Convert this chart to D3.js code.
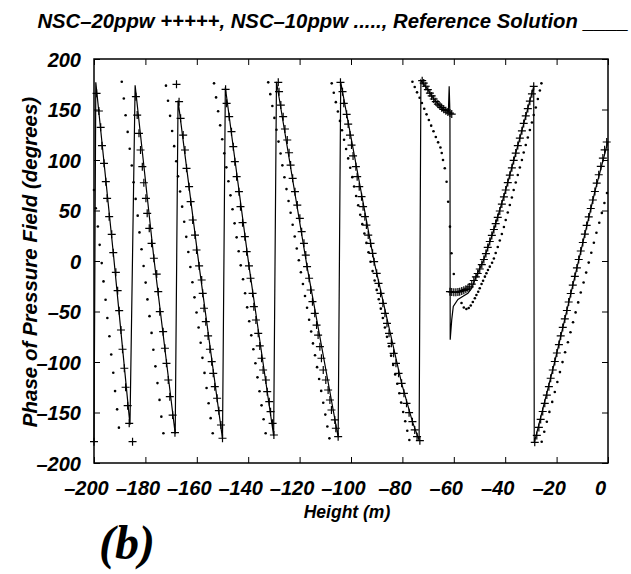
<!DOCTYPE html>
<html>
<head>
<meta charset="utf-8">
<script src="https://cdn.jsdelivr.net/npm/d3@7"></script>
<style>
  body { margin: 0; background: #fff; }
  text { font-family: "Liberation Sans", Arial, Helvetica, sans-serif; font-weight: bold; font-style: italic; fill: #000; }
</style>
</head>
<body>
<svg id="chart" width="631" height="574"></svg>
<script>
// ---- data: [height (m), phase (deg)] ----
var xTicks = [-200, -180, -160, -140, -120, -100, -80, -60, -40, -20, 0];
var yTicks = [-200, -150, -100, -50, 0, 50, 100, 150, 200];

// reference solution, drawn as a polyline (wrap jumps included)
var refSolution = [
  [-200.0,-179.0],[-199.3,177.0],[-192.5,8.2],[-186.0,-162.0],
  [-184.0,174.0],[-176.7,2.7],[-168.4,-171.0],
  [-167.3,159.0],[-159.1,-4.9],[-150.0,-176.0],
  [-148.9,172.0],[-139.7,-4.9],[-130.1,-173.0],
  [-129.0,177.5],[-117.1,-5.6],[-105.0,-174.5],
  [-104.0,177.0],[-91.0,-0.7],[-80.3,-121.1],[-76.1,-159.1],[-73.5,-177.5],
  [-72.8,179.0],[-70.1,169.6],[-67.8,160.4],[-65.4,153.5],[-63.5,149.5],[-62.1,148.0],
  [-61.8,173.0],[-61.5,146.0],[-61.4,-78.0],[-60.8,-58.0],[-60.2,-45.0],[-58.4,-38.0],
  [-56.4,-35.0],[-54.5,-32.0],[-53.0,-27.0],[-51.4,-15.8],[-48.3,1.5],[-44.4,31.2],
  [-39.8,70.3],[-34.3,121.6],[-28.9,172.9],
  [-28.7,-180.0],[-20.7,-99.5],[-12.1,-6.9],[-5.1,68.8],[0.0,118.5]
];

// NSC-20ppw (+ markers)
var nsc20 = [
  [-200.0,-178.9],[-199.0,166.0],[-198.1,148.5],[-197.4,132.4],[-196.9,114.2],[-196.1,96.7],[-195.4,78.5],
  [-194.9,62.1],[-194.1,43.9],[-193.1,26.4],[-192.5,8.2],[-191.5,-11.2],[-190.8,-29.4],[-190.2,-49.2],
  [-189.5,-68.3],[-188.9,-87.4],[-188.2,-106.2],[-187.7,-125.0],[-186.9,-143.2],[-186.3,-160.7],[-185.0,-178.9],

  [-183.7,162.7],[-183.2,144.5],[-182.5,126.4],[-181.9,109.9],[-181.2,93.4],[-180.6,77.5],[-179.8,62.1],
  [-179.3,47.2],[-178.5,32.4],[-177.6,17.5],[-176.7,2.7],[-175.6,-12.9],[-175.0,-30.4],[-174.4,-50.2],
  [-173.1,-70.0],[-172.4,-86.4],[-171.8,-101.3],[-171.1,-117.8],[-170.5,-134.3],[-169.4,-152.5],[-168.5,-170.0],

  [-167.9,174.9],[-166.9,157.7],[-166.3,141.3],[-165.3,124.7],[-164.6,109.9],[-164.0,91.8],[-163.0,73.6],
  [-162.4,58.7],[-161.6,40.6],[-160.7,25.7],[-160.1,10.9],[-159.1,-4.9],[-158.1,-18.8],[-157.7,-32.0],
  [-157.2,-46.8],[-156.5,-60.1],[-155.6,-74.2],[-154.9,-87.4],[-154.2,-99.7],[-153.6,-111.2],[-153.0,-124.4],
  [-152.1,-135.9],[-151.4,-148.2],[-150.6,-162.4],[-150.0,-175.5],

  [-148.8,170.0],[-148.4,156.1],[-147.4,142.9],[-146.5,128.0],[-145.8,113.2],[-145.2,98.3],[-144.5,83.5],
  [-143.6,68.6],[-143.0,53.8],[-142.2,37.9],[-141.3,24.1],[-140.6,9.2],[-139.7,-4.9],[-139.1,-17.1],
  [-138.3,-32.0],[-137.8,-45.2],[-137.0,-58.4],[-136.1,-71.6],[-135.5,-84.1],[-134.8,-96.3],[-134.2,-107.9],
  [-133.1,-117.8],[-132.6,-129.4],[-131.8,-139.3],[-131.3,-149.2],[-130.5,-160.7],[-130.0,-172.3],

  [-128.3,176.9],[-128.0,167.6],[-127.3,154.4],[-126.4,142.9],[-125.7,130.7],[-124.8,119.8],[-124.1,107.2],
  [-123.5,95.0],[-122.7,81.9],[-121.8,68.6],[-120.9,55.4],[-119.9,42.3],[-119.2,29.0],[-118.3,17.5],
  [-117.6,5.9],[-117.1,-5.6],[-116.3,-17.1],[-115.7,-28.7],[-115.0,-40.3],[-114.1,-51.8],[-113.4,-63.4],
  [-112.8,-73.3],[-112.1,-84.8],[-111.5,-96.3],[-110.8,-107.9],[-109.8,-117.8],[-108.9,-127.7],[-108.2,-137.6],
  [-107.6,-147.5],[-106.3,-157.4],[-105.9,-165.6],[-105.0,-173.9],

  [-104.1,176.9],[-103.3,167.6],[-102.8,156.1],[-101.7,145.2],[-101.1,135.6],[-100.4,124.7],[-99.8,114.8],
  [-99.2,104.0],[-98.1,93.4],[-97.6,83.5],[-96.8,73.6],[-95.9,63.7],[-95.3,53.8],[-94.6,43.9],[-94.0,35.6],
  [-93.3,25.7],[-92.4,17.5],[-91.6,7.6],[-91.0,-0.7],[-90.0,-12.2],[-89.3,-22.1],[-88.5,-32.0],[-87.6,-41.9],
  [-86.8,-51.8],[-86.0,-61.7],[-85.2,-71.6],[-84.3,-81.5],[-83.4,-91.4],[-82.5,-101.3],[-81.5,-111.2],
  [-80.3,-121.1],[-79.4,-131.0],[-78.4,-140.9],[-77.4,-150.2],[-76.1,-159.1],[-75.2,-167.3],[-74.3,-173.9],
  [-73.2,-177.9],

  [-72.3,178.5],[-71.7,176.2],[-70.9,173.0],[-70.1,169.6],[-69.3,166.3],[-68.6,163.4],[-67.8,160.4],
  [-67.0,157.7],[-66.2,155.4],[-65.4,153.5],[-64.7,151.8],[-63.9,150.2],[-63.1,148.8],[-62.3,147.5],
  [-61.5,146.5],[-60.8,145.5],

  [-61.5,-30.4],[-60.8,-30.7],[-60.0,-31.0],[-59.2,-31.0],[-58.4,-30.7],[-57.7,-30.4],[-56.9,-29.7],
  [-56.1,-29.0],[-55.3,-28.0],[-54.5,-27.0],[-53.8,-25.7],[-53.0,-22.8],[-52.2,-19.3],[-51.4,-15.8],
  [-50.7,-12.4],[-49.9,-7.9],[-49.1,-3.5],[-48.3,1.5],[-47.5,7.4],[-46.8,13.4],[-46.0,19.3],[-45.2,25.3],
  [-44.4,31.2],[-43.7,37.1],[-42.9,43.1],[-42.1,49.5],[-41.3,56.4],[-40.5,63.4],[-39.8,70.3],[-39.0,77.6],
  [-38.2,85.0],[-37.4,92.3],[-36.7,99.6],[-35.9,106.9],[-35.1,114.3],[-34.3,121.6],[-33.5,128.9],
  [-32.8,136.2],[-32.0,143.6],[-31.2,150.9],[-30.4,158.2],[-29.6,165.5],[-28.9,172.9],

  [-28.5,-179.5],[-27.7,-172.7],[-26.9,-164.8],[-26.2,-156.9],[-25.4,-149.0],[-24.6,-140.9],[-23.8,-132.7],
  [-23.0,-124.4],[-22.3,-116.1],[-21.5,-107.9],[-20.7,-99.5],[-19.9,-91.1],[-19.1,-82.7],[-18.4,-74.2],
  [-17.6,-65.8],[-16.8,-57.4],[-16.0,-49.0],[-15.3,-40.6],[-14.5,-32.2],[-13.7,-23.8],[-12.9,-15.3],
  [-12.1,-6.9],[-11.4,1.5],[-10.6,9.9],[-9.8,18.3],[-9.0,26.7],[-8.3,35.2],[-7.5,43.6],[-6.7,52.0],
  [-5.9,60.4],[-5.1,68.8],[-4.4,77.2],[-3.6,85.4],[-2.8,93.7],[-2.0,101.9],[-1.3,110.1],[-0.5,117.8]
];

// NSC-10ppw (dots)
var nsc10 = [
  [-200.0,70.3],[-199.3,52.2],[-198.5,34.1],[-197.8,16.0],[-197.0,-2.1],[-196.3,-20.2],[-195.5,-38.3],
  [-194.8,-56.4],[-194.0,-74.5],[-193.3,-92.6],[-192.5,-110.7],[-191.8,-128.8],[-191.0,-146.9],[-190.3,-165.0],

  [-189.2,177.5],[-188.4,160.9],[-187.7,144.3],[-186.9,127.8],[-186.1,111.2],[-185.3,94.6],[-184.6,78.0],
  [-183.8,61.5],[-183.0,44.9],[-182.3,28.3],[-181.5,11.7],[-180.7,-4.9],[-179.9,-21.4],[-179.2,-38.0],
  [-178.4,-54.6],[-177.6,-71.2],[-176.9,-87.8],[-176.1,-104.3],[-175.3,-120.9],[-174.5,-137.5],
  [-173.8,-154.1],[-173.0,-170.6],

  [-172.0,173.6],[-171.2,158.6],[-170.4,143.7],[-169.6,128.7],[-168.8,113.7],[-168.0,98.8],[-167.3,83.8],
  [-166.5,68.8],[-165.7,53.8],[-164.9,38.9],[-164.1,23.9],[-163.3,8.9],[-162.5,-6.0],[-161.7,-21.0],
  [-160.9,-36.0],[-160.1,-51.0],[-159.3,-65.9],[-158.5,-80.9],[-157.8,-95.9],[-157.0,-110.8],
  [-156.2,-125.8],[-155.4,-140.8],[-154.6,-155.6],[-153.8,-170.6],

  [-153.3,175.9],[-152.5,162.0],[-151.7,148.2],[-150.9,134.3],[-150.1,120.5],[-149.3,106.6],[-148.5,92.7],
  [-147.7,78.9],[-146.9,65.0],[-146.1,51.2],[-145.3,37.3],[-144.5,23.4],[-143.7,9.6],[-142.9,-4.3],
  [-142.0,-18.1],[-141.2,-32.0],[-140.4,-45.9],[-139.6,-59.7],[-138.8,-73.6],[-138.0,-87.4],
  [-137.2,-101.3],[-136.4,-115.2],[-135.6,-129.0],[-134.8,-142.9],[-134.0,-156.7],[-133.2,-170.6],

  [-132.2,176.9],[-131.4,165.2],[-130.6,153.4],[-129.8,141.7],[-129.0,129.9],[-128.2,118.2],[-127.4,106.4],
  [-126.7,94.7],[-125.9,82.9],[-125.1,71.2],[-124.3,59.4],[-123.5,47.7],[-122.7,35.9],[-121.9,24.2],
  [-121.1,12.4],[-120.3,0.7],[-119.5,-11.1],[-118.7,-22.8],[-117.9,-34.6],[-117.1,-46.3],[-116.3,-58.1],
  [-115.5,-69.8],[-114.8,-81.6],[-114.0,-93.3],[-113.2,-105.1],[-112.4,-116.8],[-111.6,-128.6],
  [-110.8,-140.3],[-110.0,-152.1],[-109.2,-163.8],[-108.4,-175.6],

  [-107.5,175.9],[-106.7,166.6],[-105.9,157.3],[-105.1,148.0],[-104.3,138.7],[-103.5,129.4],[-102.7,120.1],
  [-101.9,110.9],[-101.1,101.6],[-100.3,92.3],[-99.5,83.0],[-98.8,73.7],[-98.0,64.4],[-97.2,55.1],
  [-96.4,45.8],[-95.6,36.5],[-94.8,27.2],[-94.0,17.9],[-93.2,8.6],[-92.4,-0.7],[-91.6,-10.0],[-90.8,-19.3],
  [-90.0,-28.6],[-89.2,-37.9],[-88.4,-47.2],[-87.6,-56.5],[-86.8,-65.8],[-86.0,-75.1],[-85.2,-84.4],
  [-84.4,-93.7],[-83.6,-103.0],[-82.8,-112.3],[-82.0,-121.6],[-81.2,-130.9],[-80.5,-140.2],[-79.7,-149.5],
  [-78.9,-158.7],[-78.1,-168.0],[-77.3,-177.2],

  [-76.1,177.5],[-75.2,172.3],[-74.3,167.0],[-73.3,161.7],[-72.4,156.4],[-71.5,150.8],[-70.6,145.2],
  [-69.7,139.6],[-68.8,134.0],[-67.9,128.4],[-67.0,122.8],[-66.1,117.5],[-65.2,112.4],[-64.7,106.9],
  [-64.2,100.0],[-63.5,91.8],[-62.8,78.5],[-62.2,58.7],[-61.5,34.0],[-60.9,7.6],[-60.0,-12.9],

  [-57.0,-41.6],[-56.1,-46.0],[-55.1,-47.5],[-54.2,-46.5],[-53.4,-44.0],[-52.6,-40.6],[-51.8,-36.9],
  [-51.2,-33.7],[-50.5,-30.4],[-49.9,-27.0],[-49.2,-22.8],[-48.6,-19.5],[-47.9,-15.5],[-47.3,-12.2],
  [-46.7,-8.9],[-46.0,-5.6],[-45.1,-1.7],[-44.4,2.5],[-43.7,7.9],[-42.9,13.9],[-42.1,20.3],[-41.3,26.7],
  [-40.5,33.7],[-39.8,40.6],[-39.0,48.0],[-38.2,55.4],[-37.4,62.9],[-36.7,70.3],[-35.9,77.7],[-35.1,85.1],
  [-34.3,92.6],[-33.5,100.0],[-32.8,107.4],[-32.0,114.8],[-31.2,122.3],[-30.4,129.7],[-29.6,137.1],
  [-28.9,144.5],[-28.1,152.0],[-27.3,160.4],[-26.5,168.8],[-25.9,175.9],

  [-25.8,-178.9],[-24.8,-169.1],[-23.8,-159.2],[-22.8,-149.4],[-21.7,-139.5],[-20.7,-129.7],[-19.7,-119.8],
  [-18.7,-110.0],[-17.7,-100.1],[-16.7,-90.3],[-15.6,-80.4],[-14.6,-70.6],[-13.6,-60.7],[-12.6,-50.9],
  [-11.6,-41.0],[-10.6,-31.2],[-9.5,-21.3],[-8.5,-11.5],[-7.5,-1.6],[-6.5,8.2],[-5.5,18.1],[-4.5,27.9],
  [-3.4,37.8],[-2.4,47.6],[-1.4,57.5],[-0.4,67.3]
];

var titleText = "NSC\u201320ppw +++++, NSC\u201310ppw ....., Reference Solution ____";
var xLabel = "Height (m)";
var yLabel = "Phase of Pressure Field (degrees)";
var panelTag = "(b)";

// ---- layout ----
var svg = d3.select("#chart");
var plot = { left: 94, top: 59, right: 608, bottom: 463 };

var x = d3.scaleLinear().domain([-200, 0]).range([plot.left, plot.right]);
var y = d3.scaleLinear().domain([-200, 200]).range([plot.bottom, plot.top]);

function fmt(d) { return d < 0 ? "\u2013" + (-d) : "" + d; }

// ticks on all four sides, pointing inward
var gx = svg.append("g").attr("transform", "translate(0," + plot.bottom + ")")
  .call(d3.axisBottom(x).tickValues(xTicks).tickSize(-6).tickPadding(0).tickFormat(fmt));
var gy = svg.append("g").attr("transform", "translate(" + plot.left + ",0)")
  .call(d3.axisLeft(y).tickValues(yTicks).tickSize(-6).tickPadding(0).tickFormat(fmt));
svg.append("g").attr("transform", "translate(0," + plot.top + ")")
  .call(d3.axisTop(x).tickValues(xTicks).tickSize(-6).tickFormat(""));
svg.append("g").attr("transform", "translate(" + plot.right + ",0)")
  .call(d3.axisRight(y).tickValues(yTicks).tickSize(-6).tickFormat(""));

svg.selectAll(".domain").remove();
svg.selectAll(".tick line").attr("stroke", "#000").attr("stroke-width", 1);

gx.selectAll(".tick text")
  .attr("font-size", 20).attr("dy", null)
  .attr("y", 32).attr("x", -8)
  .attr("text-anchor", "middle");
gy.selectAll(".tick text")
  .attr("font-size", 20).attr("dy", "0.35em")
  .attr("x", -13).attr("text-anchor", "end");
svg.selectAll(".tick text").attr("font-family", null).attr("fill", "#000");

// plot frame
svg.append("rect")
  .attr("x", plot.left).attr("y", plot.top)
  .attr("width", plot.right - plot.left).attr("height", plot.bottom - plot.top)
  .attr("fill", "none").attr("stroke", "#000").attr("stroke-width", 1.5);

// reference solution
var line = d3.line().x(function(d) { return x(d[0]); }).y(function(d) { return y(d[1]); });
svg.append("path").datum(refSolution)
  .attr("d", line)
  .attr("fill", "none").attr("stroke", "#000").attr("stroke-width", 1.2);

// NSC-10ppw dots
svg.append("g").selectAll("circle").data(nsc10).enter().append("circle")
  .attr("cx", function(d) { return x(d[0]); })
  .attr("cy", function(d) { return y(d[1]); })
  .attr("r", 1.3).attr("fill", "#000");

// NSC-20ppw plus signs
svg.append("g").selectAll("path").data(nsc20).enter().append("path")
  .attr("transform", function(d) { return "translate(" + x(d[0]) + "," + y(d[1]) + ")"; })
  .attr("d", "M-4,0H4M0,-4V4")
  .attr("stroke", "#000").attr("stroke-width", 1.2).attr("fill", "none");

// texts
svg.append("text").attr("x", 333).attr("y", 28)
  .attr("text-anchor", "middle").attr("font-size", 20.3)
  .text(titleText);

svg.append("text").attr("x", 347).attr("y", 518)
  .attr("text-anchor", "middle").attr("font-size", 17.5)
  .text(xLabel);

svg.append("text")
  .attr("transform", "translate(37,262) rotate(-90)")
  .attr("text-anchor", "middle").attr("font-size", 20.5)
  .text(yLabel);

svg.append("text").attr("x", 99).attr("y", 559)
  .attr("font-size", 48)
  .style("font-family", "'Liberation Serif', 'Times New Roman', serif")
  .text(panelTag);
</script>
</body>
</html>
